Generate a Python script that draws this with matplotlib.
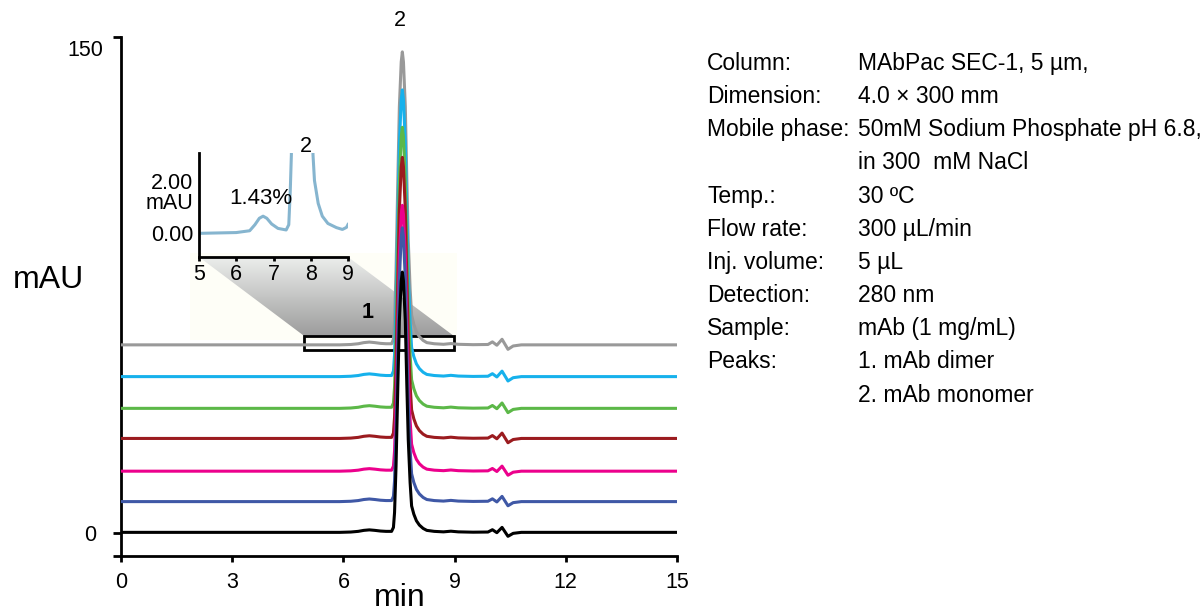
import numpy as np
import matplotlib
matplotlib.use('Agg')
import matplotlib.pyplot as plt
from matplotlib.patches import Polygon, Rectangle
from matplotlib.colors import LinearSegmentedColormap

plt.rcParams['font.family'] = ['Liberation Sans', 'DejaVu Sans']

# black trace, mAU above its own baseline
time = [0.0, 5.9, 6.2, 6.4, 6.55, 6.7, 6.85, 7.0, 7.15, 7.3, 7.35, 7.38, 7.42,
        7.47, 7.51, 7.56, 7.59, 7.62, 7.67, 7.71, 7.75, 7.8, 7.84, 7.9, 7.97,
        8.05, 8.15, 8.25, 8.45, 8.7, 8.9, 9.1, 9.5, 9.9, 10.02, 10.14, 10.28,
        10.44, 10.58, 10.8, 15.0]
profile = [0, 0, 0.1, 0.3, 0.6, 0.75, 0.6, 0.4, 0.3, 0.3, 1.5, 6, 20,
           45, 64, 76, 78.7, 76, 64, 45, 28, 15, 8, 5.5, 3.5,
           2.2, 1.2, 0.6, 0.3, 0.15, 0.35, 0.15, 0.05, 0.1, 0.8, -0.1, 1.5,
           -1.2, -0.3, 0, 0]

# seven injections, bottom to top
colors = ['#000000', '#3f58a6', '#ec008c', '#9b1b1f', '#5cb848', '#16b1ec', '#999999']
offsets = [0.2, 9.5, 18.7, 28.6, 37.7, 47.3, 56.9]
apex = [78.7, 82.8, 80.4, 85.0, 85.0, 86.7, 88.6]

# zoomed view 5-9 min
inset_time = [5.0, 6.0, 6.36, 6.5, 6.62, 6.72, 6.82, 6.95, 7.12, 7.34, 7.41, 7.45,
              7.48, 7.52, 7.78, 8.02, 8.06, 8.1, 8.2, 8.31, 8.46, 8.69, 8.85,
              8.96, 9.0]
inset_signal = [-0.03, 0.0, 0.07, 0.3, 0.55, 0.63, 0.55, 0.33, 0.16, 0.1, 0.3, 1.6,
                3.0, 30, 88, 30, 3.0, 2.0, 1.12, 0.63, 0.35, 0.19, 0.12,
                0.2, 0.31]

params = ['Column:', 'Dimension:', 'Mobile phase:', '', 'Temp.:', 'Flow rate:',
          'Inj. volume:', 'Detection:', 'Sample:', 'Peaks:', '']
values = ['MAbPac SEC-1, 5 \u00b5m,', '4.0 \u00d7 300 mm',
          '50mM Sodium Phosphate pH 6.8,', 'in 300  mM NaCl', '30 \u00baC',
          '300 \u00b5L/min', '5 \u00b5L', '280 nm', 'mAb (1 mg/mL)',
          '1. mAb dimer', '2. mAb monomer']

W, H = 1201, 615
fig = plt.figure(figsize=(W / 100, H / 100), dpi=100)
ax = fig.add_axes([121 / W, 59 / H, 556 / W, 519 / H])

prof = np.array(profile)
for c, off, a in list(zip(colors, offsets, apex))[::-1]:
    ax.plot(time, off + prof * a / apex[0], color=c, lw=2.2, zorder=3,
            solid_joinstyle='round')

ybot = -6.95
ax.set_xlim(0, 15)
ax.set_ylim(ybot, 150)
ax.set_xticks(range(0, 16, 3))
ax.set_yticks([ybot, 0, 150])
ax.set_yticklabels(['', '0', ''])
for s in ['top', 'right']:
    ax.spines[s].set_visible(False)
for s in ['left', 'bottom']:
    ax.spines[s].set_linewidth(2)
ax.tick_params(axis='x', direction='out', length=4.5, width=2, pad=7, labelsize=15.5)
ax.tick_params(axis='y', direction='out', length=5.5, width=2, pad=12, labelsize=15.5)
ax.annotate('150', xy=(0, 150), xycoords=('axes fraction', 'data'),
            xytext=(-18, -13), textcoords='offset pixels', ha='right',
            va='center', fontsize=15.5)

# zoom box around the top trace
ax.add_patch(Rectangle((1.86, 58.4), 7.2, 26.3, facecolor='#fefef7',
                       edgecolor='none', zorder=0))
box = Rectangle((4.94, 55.4), 4.04, 4.2, fill=False, edgecolor='black',
                lw=2, zorder=2)
ax.add_patch(box)

# inset
ax_in = fig.add_axes([199 / W, (H - 257) / H, 149 / W, 104 / H])
ax_in.set_facecolor('none')
ax_in.plot(inset_time, inset_signal, color='#86b5cf', lw=2.2,
           solid_joinstyle='round')
ax_in.set_xlim(5, 9)
ax_in.set_ylim(-0.94, 3.06)
ax_in.set_xticks(range(5, 10))
ax_in.set_yticks([0, 2])
ax_in.set_yticklabels(['0.00', '2.00'])
for s in ['top', 'right']:
    ax_in.spines[s].set_visible(False)
for s in ['left', 'bottom']:
    ax_in.spines[s].set_linewidth(2)
ax_in.tick_params(axis='x', direction='out', length=3, width=2, pad=2, labelsize=15.5)
ax_in.tick_params(axis='y', length=0, pad=4, labelsize=15.5)
ax_in.annotate('mAU', xy=(0, 1.1), xycoords=('axes fraction', 'data'),
               xytext=(-6, 0), textcoords='offset pixels', ha='right',
               va='center', fontsize=15.5)

# shaded connector from the inset down to the box
to_data = ax.transData.inverted()
bl = to_data.transform(ax_in.transAxes.transform((0, 0)))
br = to_data.transform(ax_in.transAxes.transform((1, 0)))
poly = Polygon([bl, br, (4.94 + 4.04, 59.6), (4.94, 59.6)], closed=True,
               facecolor='none', edgecolor='none')
ax.add_patch(poly)
cmap = LinearSegmentedColormap.from_list('fade', ['#9c9c9c', '#eceeec'])
grad = np.linspace(0, 1, 256).reshape(-1, 1)
img = ax.imshow(grad, extent=[bl[0], 9.1, 59.6, bl[1]], origin='lower',
                aspect='auto', cmap=cmap, zorder=1)
img.set_clip_path(poly)
ax.set_xlim(0, 15)
ax.set_ylim(ybot, 150)

# labels
fig.text(48 / W, 1 - 280 / H, 'mAU', ha='center', va='center', fontsize=23)
fig.text(400 / W, 1 - 598 / H, 'min', ha='center', va='center', fontsize=23)
fig.text(400 / W, 1 - 20 / H, '2', ha='center', va='center', fontsize=15.5)
fig.text(368 / W, 1 - 313 / H, '1', ha='center', va='center', fontsize=15.5,
         fontweight='bold')
fig.text(306 / W, 1 - 147 / H, '2', ha='center', va='center', fontsize=15.5)
fig.text(260.5 / W, 1 - 199 / H, '1.43%', ha='center', va='center', fontsize=16)

for i, (p, v) in enumerate(zip(params, values)):
    y = 1 - (63.5 + 33.15 * i) / H
    fig.text(707 / W, y, p, ha='left', va='center', fontsize=16.5)
    fig.text(858 / W, y, v, ha='left', va='center', fontsize=16.5)

fig.savefig('out.png', dpi=100)
